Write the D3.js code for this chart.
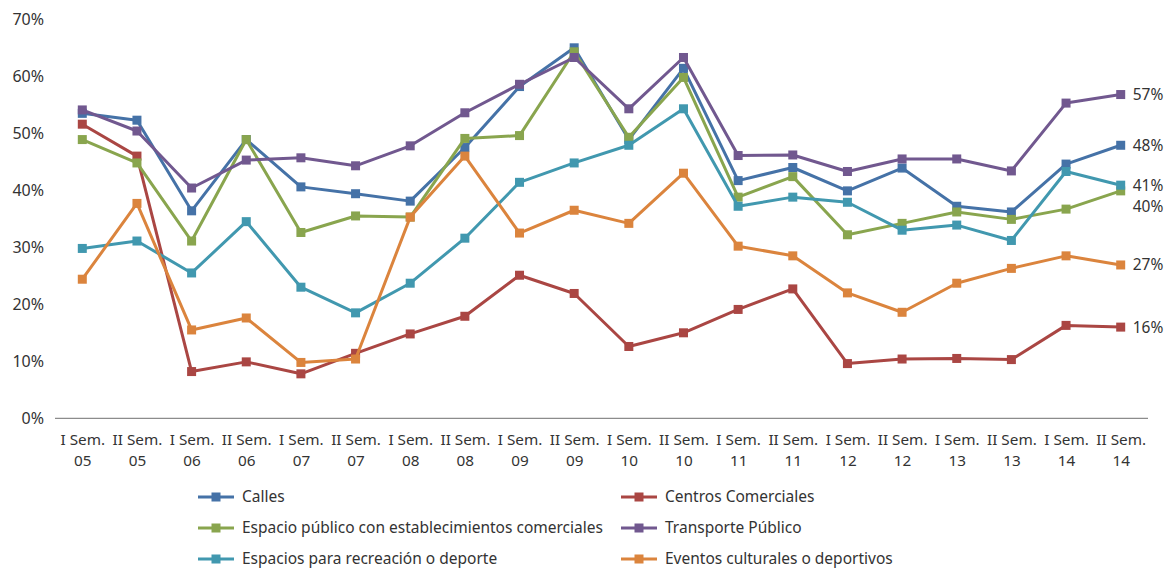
<!DOCTYPE html>
<html>
<head>
<meta charset="utf-8">
<script src="https://cdn.jsdelivr.net/npm/d3@7"></script>
<style>
  html, body { margin: 0; padding: 0; background: #fff; }
  svg { display: block; font-family: "Noto Sans", "Open Sans", sans-serif; }
</style>
</head>
<body>
<svg id="chart" width="1172" height="572"></svg>
<script>
// ---- Data ----
const categories = [
  "I Sem.|05","II Sem.|05","I Sem.|06","II Sem.|06","I Sem.|07","II Sem.|07",
  "I Sem.|08","II Sem.|08","I Sem.|09","II Sem.|09","I Sem.|10","II Sem.|10",
  "I Sem.|11","II Sem.|11","I Sem.|12","II Sem.|12","I Sem.|13","II Sem.|13",
  "I Sem.|14","II Sem.|14"
];
const seriesNames = [
  "Calles",
  "Centros Comerciales",
  "Espacio público con establecimientos comerciales",
  "Transporte Público",
  "Espacios para recreación o deporte",
  "Eventos culturales o deportivos"
];
const calles      = [53.5,52.3,36.4,48.9,40.6,39.4,38.1,47.5,58.2,65.0,48.9,61.4,41.7,44.0,39.9,43.9,37.2,36.2,44.6,47.9];
const centros     = [51.6,46.0,8.2,9.9,7.8,11.4,14.8,17.9,25.1,21.9,12.6,15.0,19.1,22.7,9.6,10.4,10.5,10.3,16.3,16.0];
const espacioPub  = [48.9,44.8,31.1,48.9,32.6,35.5,35.3,49.1,49.6,64.3,49.3,59.8,38.8,42.4,32.2,34.2,36.2,34.9,36.7,39.9];
const transporte  = [54.1,50.4,40.4,45.3,45.7,44.3,47.8,53.6,58.6,63.3,54.3,63.3,46.1,46.2,43.3,45.5,45.5,43.4,55.3,56.8];
const recreacion  = [29.8,31.1,25.5,34.5,23.0,18.5,23.7,31.6,41.4,44.8,47.9,54.3,37.2,38.8,37.9,33.0,33.9,31.2,43.3,40.9];
const eventos     = [24.4,37.7,15.5,17.6,9.8,10.4,35.3,46.0,32.5,36.5,34.2,43.0,30.2,28.5,22.0,18.6,23.7,26.3,28.5,26.9];
const endLabels   = ["48%","16%","40%","57%","41%","27%"];
const yTicks      = [0,10,20,30,40,50,60,70];
const colors      = ["#4572A7","#AA4643","#89A54E","#71588F","#4198AF","#DB843D"];

const seriesValues = [calles, centros, espacioPub, transporte, recreacion, eventos];

// ---- Layout ----
const svg = d3.select("#chart");
const x = d3.scalePoint().domain(categories).range([82.3, 1120.7]);
const y = d3.scaleLinear().domain([0, 70]).range([418.3, 19.3]);
const textColor = "#333333";

// Y axis labels (no axis line)
const yAxis = d3.axisLeft(y).tickValues(yTicks).tickFormat(d => d + "%").tickSize(0).tickPadding(0);
const gy = svg.append("g").attr("transform", "translate(44,0)").call(yAxis);
gy.select(".domain").remove();
gy.selectAll("text").attr("font-size", 16).attr("fill", textColor).attr("font-family", "Noto Sans");

// X axis
const xAxis = d3.axisBottom(x).tickSize(0).tickFormat(() => "");
const gx = svg.append("g").attr("transform", "translate(0,418.3)").call(xAxis);
gx.select(".domain").attr("d", "M55,0H1148").attr("stroke", "#8c8c8c").attr("stroke-width", 1.3);
gx.selectAll(".tick").each(function(d) {
  const parts = d.split("|");
  const t = d3.select(this).select("text")
    .attr("font-size", 15.3).attr("fill", textColor).attr("font-family", "Noto Sans")
    .attr("y", 0).attr("dy", null).text(null);
  t.append("tspan").attr("x", 0).attr("y", 27).text(parts[0]);
  t.append("tspan").attr("x", 0).attr("y", 47.5).text(parts[1]);
});

// Lines and markers
const line = d3.line().x((d, i) => x(categories[i])).y(d => y(d));
seriesValues.forEach((vals, s) => {
  const g = svg.append("g");
  g.append("path").datum(vals)
    .attr("d", line).attr("fill", "none")
    .attr("stroke", colors[s]).attr("stroke-width", 3).attr("stroke-linejoin", "round");
  g.selectAll("rect").data(vals).join("rect")
    .attr("x", (d, i) => x(categories[i]) - 4.5)
    .attr("y", d => y(d) - 4.5)
    .attr("width", 9).attr("height", 9)
    .attr("fill", colors[s]);
});

// End labels with simple collision avoidance
const last = categories[categories.length - 1];
const labels = seriesValues.map((vals, s) => ({ text: endLabels[s], y: y(vals[vals.length - 1]) }));
const sorted = labels.slice().sort((a, b) => a.y - b.y);
for (let i = 1; i < sorted.length; i++) {
  if (sorted[i].y - sorted[i - 1].y < 21) sorted[i].y = sorted[i - 1].y + 21;
}
svg.append("g").selectAll("text").data(labels).join("text")
  .attr("x", x(last) + 12)
  .attr("y", d => d.y)
  .attr("dy", "0.35em")
  .attr("font-size", 15.5).attr("fill", textColor).attr("font-family", "Noto Sans")
  .text(d => d.text);

// Legend
const legendCols = [198, 621];
const legendRows = [497, 528, 559];
const lg = svg.append("g");
seriesNames.forEach((name, i) => {
  const cx = legendCols[i % 2], cy = legendRows[Math.floor(i / 2)];
  lg.append("line").attr("x1", cx).attr("x2", cx + 36).attr("y1", cy).attr("y2", cy)
    .attr("stroke", colors[i]).attr("stroke-width", 3);
  lg.append("rect").attr("x", cx + 18 - 4.5).attr("y", cy - 4.5).attr("width", 9).attr("height", 9)
    .attr("fill", colors[i]);
  lg.append("text").attr("x", cx + 44).attr("y", cy).attr("dy", "0.35em")
    .attr("font-size", 15.5).attr("fill", textColor).attr("font-family", "Noto Sans")
    .text(name);
});
</script>
</body>
</html>
